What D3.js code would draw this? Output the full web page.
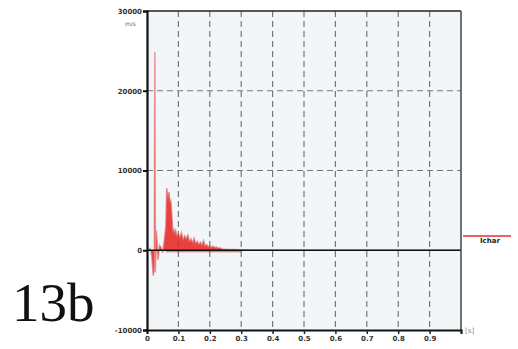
<!DOCTYPE html>
<html><head><meta charset="utf-8">
<script src="https://cdn.jsdelivr.net/npm/d3@7"></script>
<style>body{margin:0;background:#fff}svg{display:block}</style>
</head><body>
<svg id="c" width="518" height="349"></svg>
<script>
const xTicks = [0,0.1,0.2,0.3,0.4,0.5,0.6,0.7,0.8,0.9,1.0];
const xTickLabels = ["0","0.1","0.2","0.3","0.4","0.5","0.6","0.7","0.8","0.9",""];
const yTicks = [-10000,0,10000,20000,30000];
const yTickLabels = ["-10000","0","10000","20000","30000"];
const times  = [0,0.005,0.010,0.015,0.020,0.0235,0.025,0.0265,0.030,0.035,0.040,0.045,0.050,0.055,0.060,0.063,0.067,0.070,0.073,0.076,0.079,0.082,0.085,0.088,0.091,0.095,0.100,0.105,0.110,0.115,0.120,0.125,0.130,0.135,0.140,0.145,0.150,0.155,0.160,0.165,0.170,0.175,0.180,0.185,0.190,0.195,0.200,0.205,0.210,0.215,0.220,0.225,0.230,0.240,0.250,0.260,0.280,0.300,0.330,0.360,0.400,0.450,1.0];
const values = [0,0,200,-600,-3200,-2000,24900,-2800,2500,-1200,600,300,-300,1200,3000,7800,6500,7300,6000,6200,4500,2400,2600,2100,2500,1800,2100,1600,2200,1300,1800,1400,1900,1100,1400,900,1500,800,1100,700,1000,600,1200,500,700,400,600,300,500,300,400,250,300,150,120,90,80,50,40,20,0,0,0];
const seriesName = "Ichar";

const svg = d3.select("#c");
const L=147,R=461,T=11,B=330;
const x = d3.scaleLinear().domain([0,1]).range([L,R]);
const y = d3.scaleLinear().domain([-10000,30000]).range([B,T]);

svg.append("rect").attr("x",L).attr("y",T).attr("width",R-L).attr("height",B-T).attr("fill","#f3f6f8");

svg.append("g").selectAll("line").data(xTicks.slice(1,10)).join("line")
  .attr("x1",d=>x(d)).attr("x2",d=>x(d)).attr("y1",T).attr("y2",B)
  .attr("stroke","#777").attr("stroke-width",1.2).attr("stroke-dasharray","6,4");
svg.append("g").selectAll("line").data([10000,20000]).join("line")
  .attr("x1",L).attr("x2",R).attr("y1",d=>y(d)).attr("y2",d=>y(d))
  .attr("stroke","#777").attr("stroke-width",1.2).attr("stroke-dasharray","6,4");

const pts = times.map((t,i)=>[t,values[i]]);
svg.append("path").datum(pts)
  .attr("d", d3.area().x(d=>x(d[0])).y0(y(0)).y1(d=>y(d[1])))
  .attr("fill","#e8201c").attr("fill-opacity",0.85);
svg.append("path").datum(pts)
  .attr("d", d3.line().x(d=>x(d[0])).y(d=>y(d[1])))
  .attr("fill","none").attr("stroke","#e06060").attr("stroke-width",1.6).attr("stroke-opacity",0.6);

svg.append("line").attr("x1",L).attr("x2",R).attr("y1",y(0)).attr("y2",y(0))
  .attr("stroke","#111").attr("stroke-width",1.6);
svg.append("line").attr("x1",x(0.06)).attr("x2",x(0.3)).attr("y1",y(0)+1.5).attr("y2",y(0)+1.5)
  .attr("stroke","#d02020").attr("stroke-width",1.2).attr("stroke-opacity",0.7);

svg.append("line").attr("x1",L).attr("x2",R).attr("y1",T).attr("y2",T).attr("stroke","#222").attr("stroke-width",1.5);
svg.append("line").attr("x1",R).attr("x2",R).attr("y1",T).attr("y2",B).attr("stroke","#444").attr("stroke-width",1.5);

const xAxis = d3.axisBottom(x).tickValues(xTicks).tickFormat((d,i)=>xTickLabels[i]).tickSize(4).tickPadding(2);
const gx = svg.append("g").attr("transform",`translate(0,${B})`).call(xAxis);
gx.select(".domain").attr("stroke","#111").attr("stroke-width",2);
gx.selectAll(".tick line").attr("stroke","#222").attr("stroke-width",1.5);
gx.selectAll("text").attr("font-family","DejaVu Sans").attr("font-size",7).attr("font-weight","bold").attr("fill","#333");

const yAxis = d3.axisLeft(y).tickValues(yTicks).tickFormat((d,i)=>yTickLabels[i]).tickSize(4).tickPadding(1);
const gy = svg.append("g").attr("transform",`translate(${L},0)`).call(yAxis);
gy.select(".domain").attr("stroke","#111").attr("stroke-width",2.2);
gy.selectAll(".tick line").attr("stroke","#111").attr("stroke-width",2);
gy.selectAll("text").attr("font-family","DejaVu Sans").attr("font-size",7).attr("font-weight","bold").attr("fill","#333");

svg.append("text").attr("x",136).attr("y",26).attr("text-anchor","end")
  .attr("font-family","DejaVu Sans").attr("font-size",6).attr("fill","#666").text("m/s");
svg.append("text").attr("x",465).attr("y",333)
  .attr("font-family","DejaVu Sans").attr("font-size",7).attr("fill","#888").text("[s]");

svg.append("line").attr("x1",463).attr("x2",511).attr("y1",236).attr("y2",236)
  .attr("stroke","#e03030").attr("stroke-width",1.5);
svg.append("text").attr("x",480).attr("y",243)
  .attr("font-family","DejaVu Sans").attr("font-size",7).attr("font-weight","bold").attr("fill","#222").text(seriesName);

svg.append("text").attr("x",12).attr("y",321)
  .attr("font-family","Liberation Serif").attr("font-size",55).attr("fill","#111").text("13b");
</script>
</body></html>
